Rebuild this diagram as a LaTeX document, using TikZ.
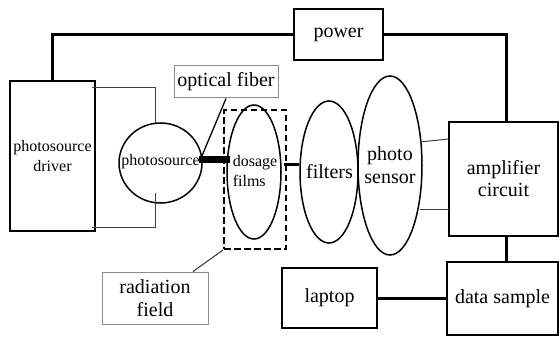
\documentclass[tikz,border=0pt]{standalone}
\usepackage{fontspec}
\setmainfont{Liberation Serif}
\usetikzlibrary{shapes.geometric}
\begin{document}
\begin{tikzpicture}[x=1pt,y=-1pt,
  box/.style={draw,line width=1.6pt,inner sep=0pt,align=center,font=\fontsize{20}{22}\selectfont},
  graybox/.style={draw=black!45,line width=1pt,inner sep=0pt,align=center,font=\fontsize{20}{23}\selectfont},
  ell/.style={draw,ellipse,line width=1.5pt,inner sep=0pt},
  lbl/.style={inner sep=0pt,align=center,font=\fontsize{20}{23}\selectfont},
  smalllbl/.style={inner sep=0pt,align=center,font=\fontsize{16}{20}\selectfont},
  wire/.style={line width=3pt},
  thinwire/.style={line width=1pt,black!75}]
\useasboundingbox (0,0) rectangle (560,337);
% boxes
\node[box,minimum width=85,minimum height=150,font=\fontsize{16}{20}\selectfont] (driver) at (52.5,156) {photosource\\driver};
\node[box,minimum width=89,minimum height=51] (power) at (338.5,34.5) {power};
\node[box,minimum width=109,minimum height=114] (amp) at (503.5,179) {amplifier\\circuit};
\node[box,minimum width=111,minimum height=73] (data) at (502.5,298.5) {data sample};
\node[box,minimum width=95,minimum height=60] (laptop) at (329.5,298) {laptop};
\node[graybox,minimum width=104,minimum height=32] (flabel) at (226,82) {optical fiber};
\node[graybox,minimum width=106,minimum height=52] (rlabel) at (155,298) {radiation\\field};
% ellipses
\node[ell,minimum width=83,minimum height=80] (ps) at (160.5,163) {};
\node[smalllbl] at (160.5,162) {photosource};
\node[draw,dashed,dash pattern=on 6.5pt off 3.5pt,line width=2pt,minimum width=62,minimum height=139,inner sep=0pt] (field) at (255,179.5) {};
\node[ell,minimum width=54,minimum height=134] (dos) at (254,172) {};
\node[smalllbl,align=left] at (255,171) {dosage\\films};
\node[ell,minimum width=58,minimum height=142] (filters) at (329,172) {};
\node[lbl] at (329.5,172) {filters};
\node[ell,minimum width=64,minimum height=179] (sensor) at (390,165.5) {};
\node[lbl] at (390,165.5) {photo\\sensor};
% fiber bar
\node[fill=black,minimum width=31,minimum height=7,inner sep=0pt] (bar) at (214.5,159.5) {};
% wires
\draw[wire] (driver.north) |- (power.west);
\draw[wire] ([xshift=-1]power.east) -| ([xshift=2.5]amp.north);
\draw[wire] ([xshift=2.5]amp.south) -- ([xshift=2.5]amp.south |- data.north);
\draw[wire] (laptop.east) -- (laptop.east -| data.west);
\coordinate (c1) at (284,164);
\draw[wire] (c1) -- (c1 -| filters.west);
% thin connectors
\coordinate (t1) at (92,88);
\coordinate (t2) at (155,123);
\draw[thinwire] (t1) -| (t2);
\coordinate (b1) at (92,227);
\coordinate (b2) at (155,193);
\draw[thinwire] (b1) -| (b2);
\coordinate (s1) at (420,142);
\coordinate (s2) at (449,139);
\draw[thinwire] (s1) -- (s2);
\coordinate (s3) at (420,209);
\coordinate (s4) at (449,209);
\draw[thinwire] (s3) -- (s4);
\draw[line width=1.3pt] (flabel.south) -- ([xshift=-12.5]bar.north);
\draw[line width=1pt,black!80] ([xshift=38]rlabel.north) -- (field.south west);
\end{tikzpicture}
\end{document}
